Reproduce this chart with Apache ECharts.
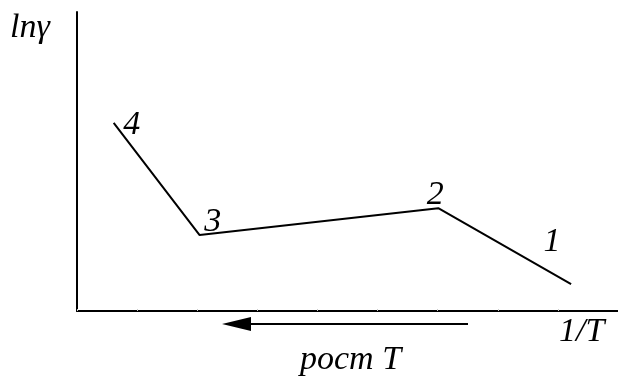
<!DOCTYPE html>
<html>
<head>
<meta charset="utf-8">
<script src="https://cdn.jsdelivr.net/npm/echarts@6/dist/echarts.min.js"></script>
<style>
  html, body { margin: 0; padding: 0; background: #fff; }
  #chart { width: 618px; height: 376px; }
</style>
</head>
<body>
<div id="chart"></div>
<script>
// Break points of ln(gamma) vs 1/T (arbitrary units)
const pointNames = ['1', '2', '3', '4'];
const invT = [8.22, 6.01, 2.04, 0.61];
const lnGamma = [0.90, 3.44, 2.54, 6.29];
// label offsets for each numbered break point
const labelOffsets = [[-19, -42], [-3, -13], [13, -13], [18, 2]];

const serif = 'Liberation Serif';
const textStyle = { fontFamily: serif, fontStyle: 'italic', fontSize: 34, fill: '#000' };

const chart = echarts.init(document.getElementById('chart'));

const points = pointNames.map((n, i) => [invT[i], lnGamma[i]]);
const labelled = pointNames.map((n, i) => ({
  value: [invT[i], lnGamma[i]],
  name: n,
  label: { offset: labelOffsets[i] }
}));

chart.setOption({
  animation: false,
  backgroundColor: '#fff',
  grid: { left: 77, top: 12, width: 542, height: 299 },
  xAxis: {
    type: 'value', min: 0, max: 9, interval: 1,
    axisLine: { show: true, onZero: false, lineStyle: { color: '#000', width: 2 } },
    axisTick: { show: true, inside: true, length: 2, lineStyle: { color: '#ccc', width: 1 } },
    axisLabel: { show: false },
    splitLine: { show: false }
  },
  yAxis: {
    type: 'value', min: 0, max: 10,
    axisLine: { show: true, onZero: false, lineStyle: { color: '#000', width: 2 } },
    axisTick: { show: false },
    axisLabel: { show: false },
    splitLine: { show: false }
  },
  series: [{
    type: 'line',
    data: points,
    symbol: 'none',
    lineStyle: { color: '#000', width: 2 },
    z: 3
  }, {
    type: 'scatter',
    data: labelled,
    symbolSize: 0,
    silent: true,
    itemStyle: { opacity: 1, color: '#000' },
    label: {
      show: true,
      position: 'inside',
      formatter: p => p.name,
      fontFamily: serif,
      fontStyle: 'italic',
      fontSize: 34,
      color: '#000',
      textBorderWidth: 0
    },
    z: 4
  }],
  graphic: [
    { type: 'text', left: 10, top: 11, style: Object.assign({ text: 'lnγ' }, textStyle) },
    { type: 'text', left: 559, top: 315, style: Object.assign({ text: '1/T' }, textStyle) },
    { type: 'text', left: 300, top: 343, style: Object.assign({ text: 'рост T' }, textStyle) },
    // arrow pointing toward higher temperature (smaller 1/T)
    { type: 'line', shape: { x1: 248, y1: 324, x2: 468, y2: 324 }, style: { stroke: '#000', lineWidth: 2 } },
    { type: 'polygon', shape: { points: [[222, 324], [251, 317], [251, 331]] }, style: { fill: '#000' } }
  ]
});
</script>
</body>
</html>
